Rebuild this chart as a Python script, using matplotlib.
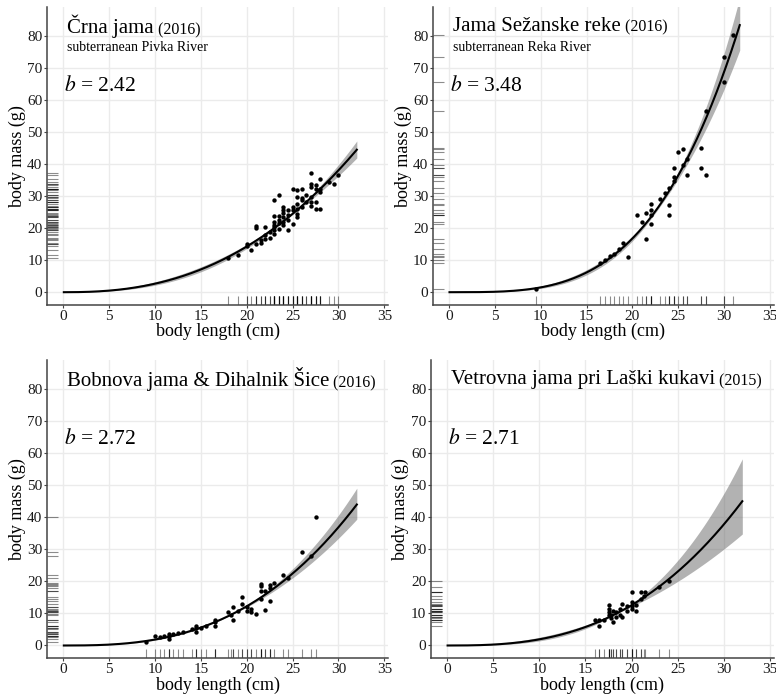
import numpy as np
import matplotlib
matplotlib.use("Agg")
import matplotlib.pyplot as plt

plt.rcParams['font.family'] = ['Liberation Serif', 'DejaVu Serif']
plt.rcParams['mathtext.fontset'] = 'stix'

# panel texts
titles = ['Črna jama', 'Jama Sežanske reke', 'Bobnova jama & Dihalnik Šice', 'Vetrovna jama pri Laški kukavi']
years = ['(2016)', '(2016)', '(2016)', '(2015)']
subtitles = ['subterranean Pivka River', 'subterranean Reka River', '', '']

# fitted W = a * L^b
b_vals = [2.42, 3.48, 2.72, 2.71]
a_vals = [0.01013, 4.98e-4, 3.54e-3, 3.75e-3]
curve_end = [32, 31.7, 32, 32]
# confidence band (log scale): mean length, slope term, base term
band_lbar = [24.5, 23.0, 18.0, 18.5]
band_slope = [0.22, 0.30, 0.19, 0.47]
band_base = [0.01, 0.02, 0.01, 0.01]

# measured fish (length cm, mass g)
L1 = [18, 19, 20, 20, 20.5, 21, 21, 21, 21.5, 21.5, 22, 22, 22, 22.5, 22.5, 23, 23, 23, 23, 23, 23, 23,
      23.5, 23.5, 23.5, 23.5, 23.5, 24, 24, 24, 24, 24, 24, 24.5, 24.5, 24.5, 24.5, 25, 25, 25, 25,
      25.5, 25.5, 25.5, 25.5, 25.5, 25.5, 26, 26, 26, 26, 26.5, 26.5, 27, 27, 27, 27, 27, 27,
      27.5, 27.5, 27.5, 27.5, 28, 28, 28, 28, 29, 29.5, 30]
W1 = [10.8, 11.5, 15, 14.5, 13.3, 15, 20.8, 20, 15.4, 16.2, 20.4, 16.6, 17.9, 18.8, 17, 28.7, 23.7, 21.9, 20.4, 19.3, 18.3, 21,
      22.5, 30.2, 23.8, 21.5, 19.8, 26.6, 24.8, 23.6, 22, 21, 25.8, 19.3, 25.5, 24, 22.5, 32.3, 26.6, 21.2, 25.5,
      29.6, 31.9, 27.5, 26, 24.5, 23.4, 32.3, 28.7, 26.6, 29.5, 30.2, 28, 37.1, 33.8, 32.8, 29.6, 27, 28,
      33.4, 28, 25.9, 32.3, 25.9, 35.2, 32.3, 31.2, 34.3, 33.8, 36.6]

L2 = [9.5, 16.5, 17, 17.5, 18, 18.5, 19, 19.5, 20.5, 21, 21.5, 21.5, 22, 22, 22, 22, 23, 23.5, 24, 24, 24,
      24.5, 24.5, 24.5, 25, 25.5, 25.5, 26, 26, 27.5, 27.5, 28, 28, 30, 30, 31]
W2 = [0.9, 9.2, 10, 11.3, 12, 13.6, 15.2, 10.9, 24.2, 21.8, 24.8, 16.7, 27.6, 25.7, 21.2, 24, 29.1, 31, 32.5, 27.3, 24.2,
      38.7, 34.8, 36, 43.6, 44.7, 39.7, 41.5, 36.7, 45.1, 38.7, 36.7, 56.5, 73.4, 65.5, 80.3]

L3 = [9, 10, 10.5, 11, 11.5, 11.5, 11.5, 12, 12.5, 13, 14, 14.5, 14.5, 14.5, 15, 15.5, 16.5, 16.5, 16.5,
      18, 18.3, 18.5, 18.5, 19, 19.5, 19.5, 20, 20, 20.5, 20.5, 21, 21.5, 21.5, 21.5, 21.5, 22, 22,
      22.5, 22.5, 22.5, 23, 24, 24.5, 26, 27, 27.5]
W3 = [1.2, 3.1, 2.5, 3.1, 2.1, 3.1, 3.6, 3.5, 3.8, 4.2, 5, 4.2, 5.4, 6, 5.5, 6, 6.2, 7.3, 8.1,
      10.6, 9.5, 12, 8.1, 10.9, 15.1, 13, 10.9, 12, 10.6, 11.4, 9.7, 19.2, 18.4, 17.1, 14.5, 17.1, 11.1,
      14, 18.9, 17.8, 19.5, 22, 21, 29, 28, 40]

L4 = [16, 16.5, 16.5, 17, 17.5, 17.5, 17.5, 17.5, 17.8, 17.8, 18, 18, 18.3, 18.3, 18.7, 18.7, 19, 19,
      19.5, 19.5, 20, 20, 20, 20, 20.5, 20.5, 21, 21, 21.5, 21.3, 23, 24]
W4 = [8.1, 6, 8.1, 8, 9.4, 10.4, 11.4, 12.5, 8.5, 9.6, 7.3, 10.9, 9, 10.3, 11.5, 9.4, 8.8, 13,
      12.2, 10.9, 16.8, 13.5, 12.3, 11.4, 10.9, 12.5, 14.5, 16.8, 16.8, 15.4, 18.2, 20.2]

lengths = [L1, L2, L3, L4]
masses = [W1, W2, W3, W4]

fig = plt.figure(figsize=(7.76, 6.94), dpi=100)
positions = [[0.061, 0.5605, 0.439, 0.4294], [0.558, 0.5605, 0.439, 0.4294],
             [0.061, 0.0514, 0.439, 0.4298], [0.5554, 0.0514, 0.4416, 0.4298]]

for i in range(4):
    ax = fig.add_axes(positions[i])
    ax.set_xlim(-1.75, 35.4)
    ax.set_ylim(-4, 89)
    ax.set_xticks(range(0, 36, 5))
    ax.set_yticks(range(0, 81, 10))
    ax.grid(True, color='#ebebeb', lw=1.0)
    ax.set_axisbelow(True)
    for s in ['top', 'right']:
        ax.spines[s].set_visible(False)
    for s in ['left', 'bottom']:
        ax.spines[s].set_color('#444444')
        ax.spines[s].set_linewidth(1.1)
    ax.tick_params(length=2.5, width=0.8, color='#444444', labelsize=11, labelcolor='#1a1a1a', pad=1)

    # band and curve
    Lc = np.linspace(0.05, curve_end[i], 300)
    Wc = a_vals[i] * Lc ** b_vals[i]
    hw = np.sqrt(band_base[i] ** 2 + (band_slope[i] * np.log(Lc / band_lbar[i])) ** 2)
    ax.fill_between(Lc, Wc * np.exp(-hw), Wc * np.exp(hw), color='#666666', alpha=0.5, lw=0, zorder=2)
    ax.plot(Lc, Wc, color='black', lw=1.5, zorder=3)

    ax.scatter(lengths[i], masses[i], s=10, color='black', lw=0, zorder=4)

    # rugs
    ax.vlines(lengths[i], 0, 0.03, transform=ax.get_xaxis_transform(), color='black', alpha=0.45, lw=0.8)
    ax.hlines(masses[i], 0, 0.032, transform=ax.get_yaxis_transform(), color='black', alpha=0.45, lw=0.8)

    ax.set_xlabel('body length (cm)', fontsize=13, labelpad=0)
    ax.set_ylabel('body mass (g)', fontsize=13, labelpad=1)

    t = ax.text(0.058, 0.935, titles[i], transform=ax.transAxes, fontsize=15, va='center', ha='left')
    ax.annotate(' ' + years[i], xy=(1, 0), xycoords=t, fontsize=11.5, va='bottom', ha='left')
    if subtitles[i]:
        ax.text(0.058, 0.865, subtitles[i], transform=ax.transAxes, fontsize=10, va='center', ha='left')
    ax.text(0.05, 0.735, r'$b$ = %.2f' % b_vals[i], transform=ax.transAxes, fontsize=15.5, va='center', ha='left')

fig.savefig('out.png', dpi=100)
